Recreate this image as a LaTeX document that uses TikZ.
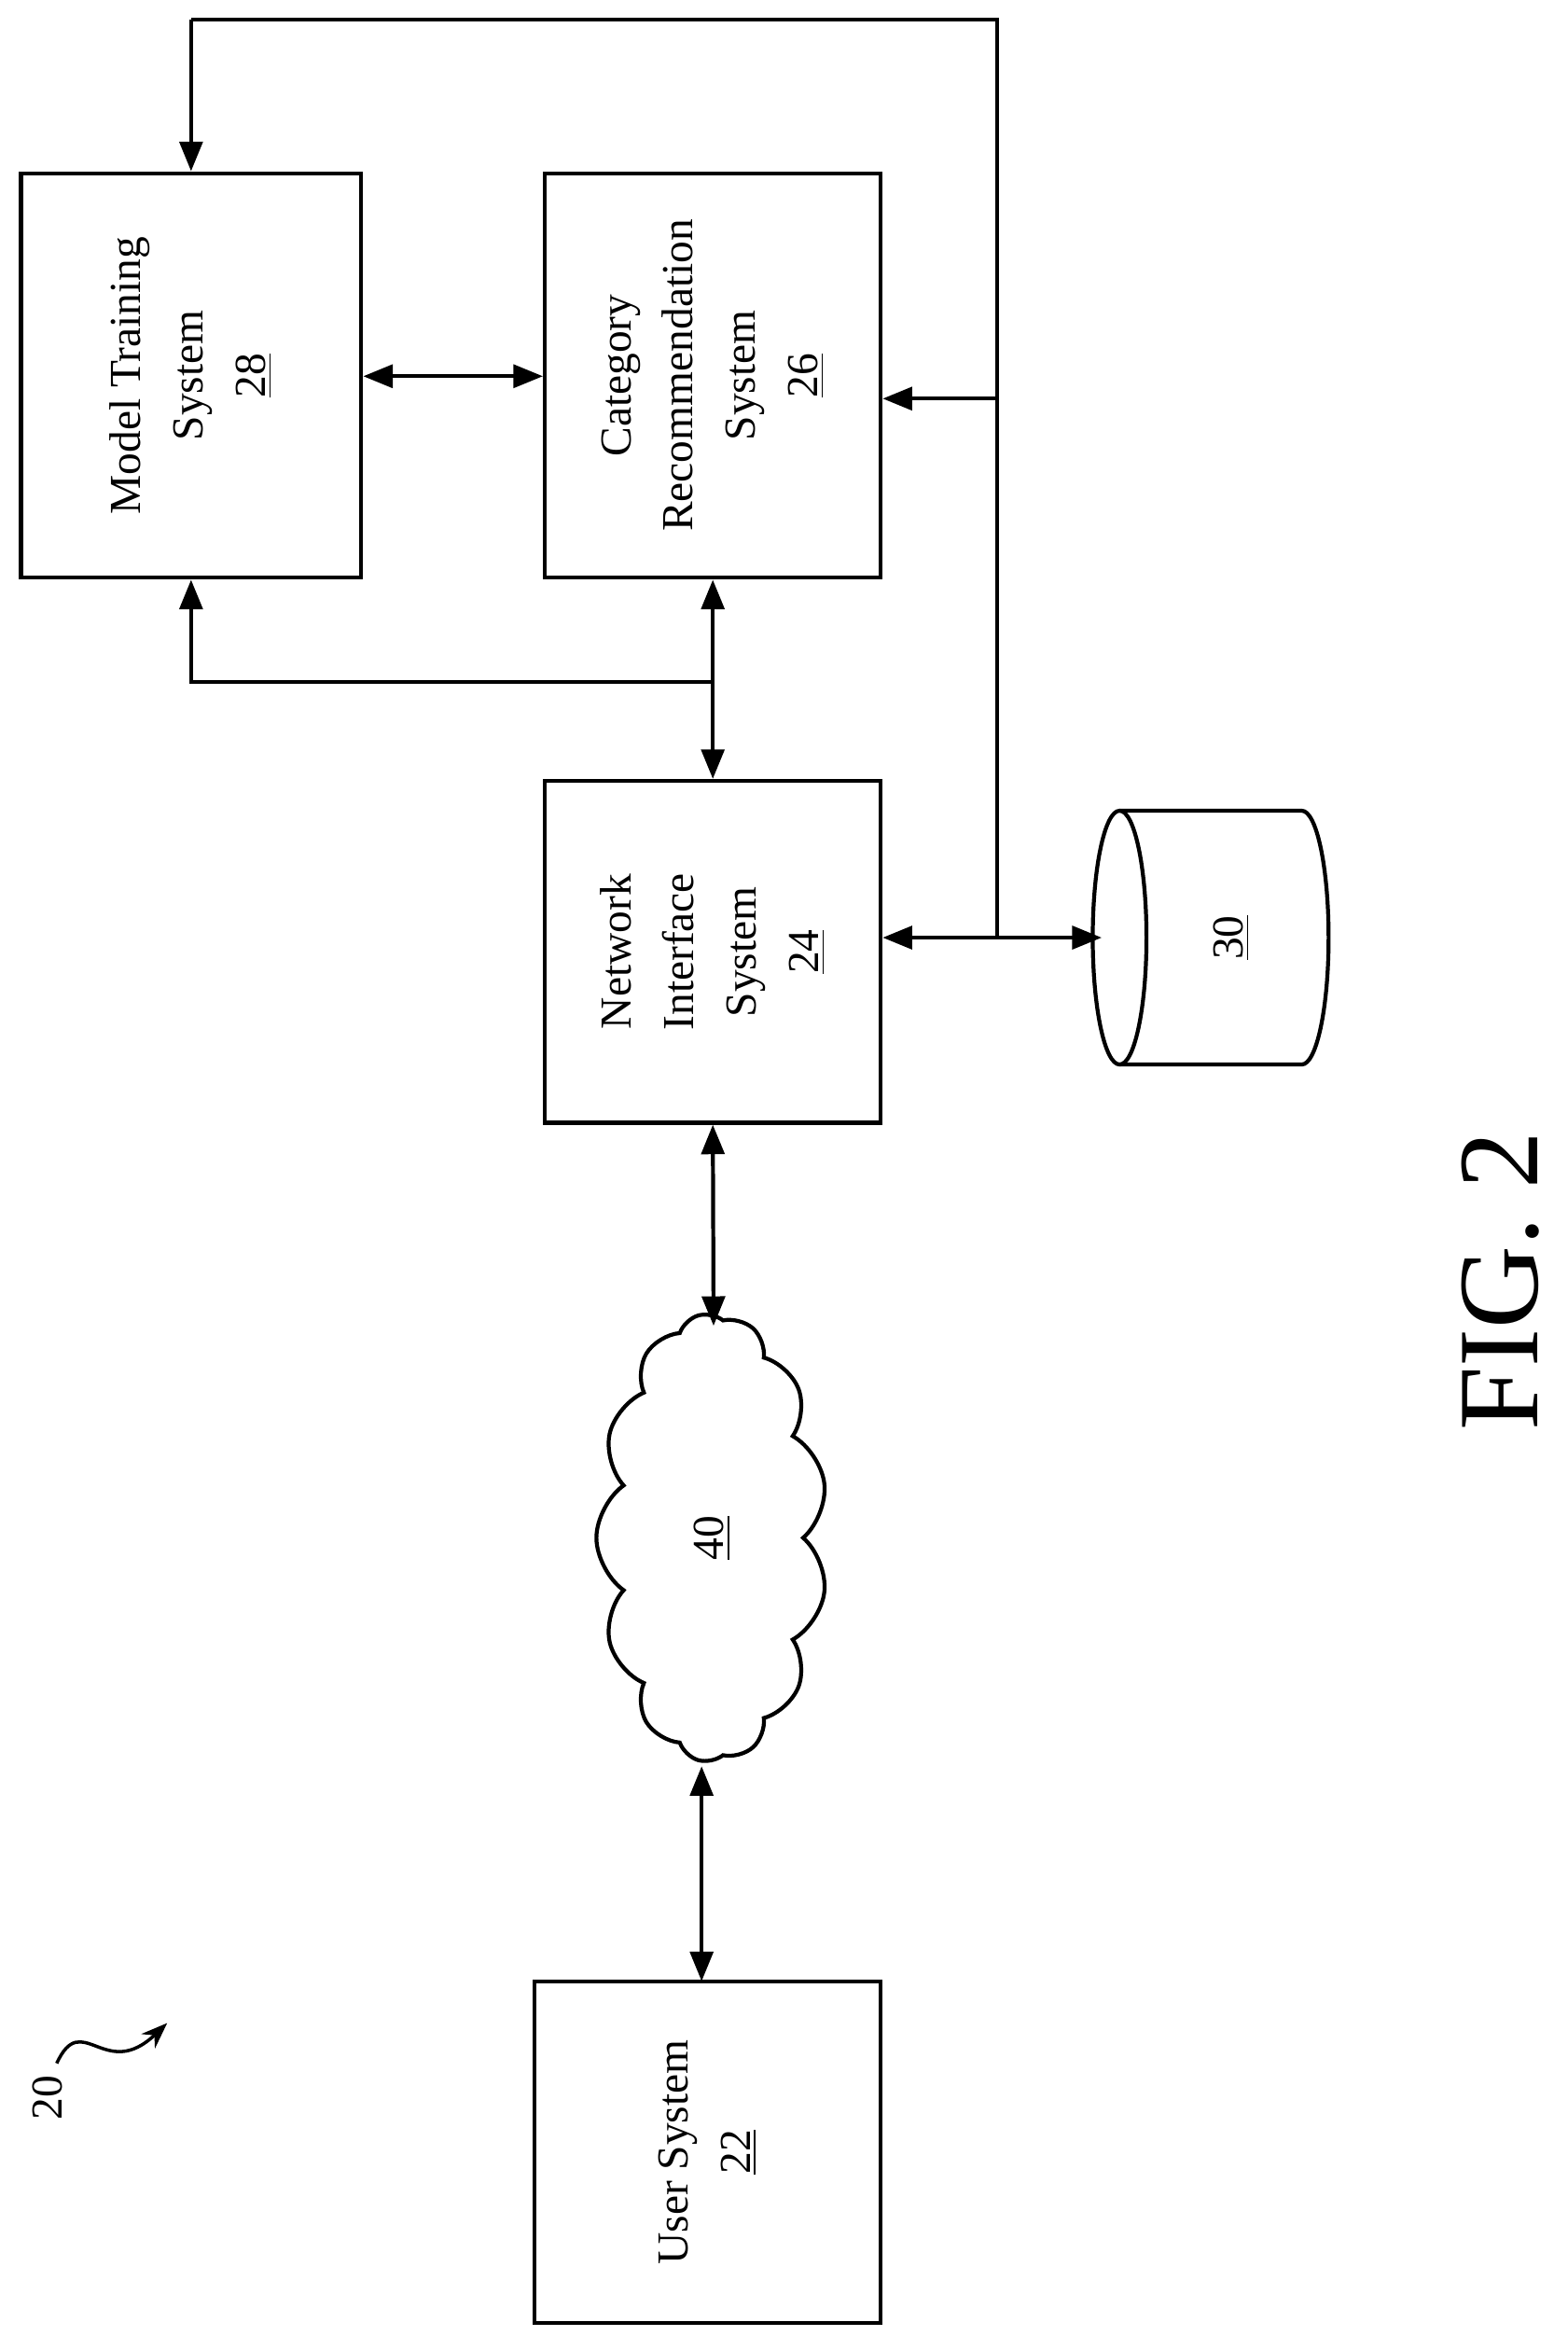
\documentclass[tikz,border=0pt]{standalone}
\usepackage{fontspec}
\setmainfont{Liberation Serif}
\usetikzlibrary{arrows.meta,shapes.symbols}
\begin{document}
\begin{tikzpicture}[x=0.016cm,y=-0.016cm,
  box/.style={draw,line width=1.2pt,inner sep=0pt},
  lbl/.style={rotate=90,align=center,font=\fontsize{13.5}{19}\selectfont},
  ln/.style={line width=1.2pt},
  ar/.style={ln,-{Triangle[length=9pt,width=7pt]}},
  dar/.style={ln,{Triangle[length=9pt,width=7pt]}-{Triangle[length=9pt,width=7pt]}}]
\useasboundingbox (0,0) rectangle (1050,1574);
\node[box,minimum width=228*0.016cm,minimum height=271*0.016cm] (mt) at (128,251.5) {};
\node[lbl] at (mt) {Model Training\\System\\\underline{28}};
\node[box,minimum width=225*0.016cm,minimum height=271*0.016cm] (cr) at (477.5,251.5) {};
\node[lbl] at (cr) {Category\\Recommendation\\System\\\underline{26}};
\node[box,minimum width=225*0.016cm,minimum height=229*0.016cm] (ni) at (477.5,637.5) {};
\node[lbl] at (ni) {Network\\Interface\\System\\\underline{24}};
\node[box,minimum width=232*0.016cm,minimum height=229*0.016cm] (us) at (474,1441.5) {};
\node[lbl] at (us) {User System\\\underline{22}};
% cylinder 30
\draw[ln] (750,628) ellipse [x radius=18,y radius=85];
\draw[ln] (750,543) -- (872,543) arc[start angle=-90,end angle=90,x radius=18,y radius=85] -- (750,713);
\coordinate (db) at (738,628);
\node[lbl] at (825,628) {\underline{30}};
% cloud 40
\node[cloud,draw,line width=1.2pt,cloud puffs=13,cloud puff arc=110,aspect=0.5,minimum width=300*0.016cm,minimum height=155*0.016cm,rotate=90] (cl) at (477,1030) {};
\node[lbl] at (cl) {\underline{40}};
% connectors
\coordinate (j1) at (668,628);
\coordinate (j2) at (668,267);
\coordinate (t1) at (668,13);
\coordinate (t2) at (128,13);
\draw[ln] (j1) -- (t1) -- (t2);
\draw[ar] (t2) -- (mt.north);
\draw[ar] (j2) -- (cr.east |- j2);
\draw[dar] (ni.east |- j1) -- (db);
\draw[dar] (mt.east |- 0,252) -- (cr.west |- 0,252);
\coordinate (b1) at (128,457);
\coordinate (b2) at (478,457);
\draw[ar] (b2) -- (b1) -- (mt.south);
\draw[dar] (cr.south) -- (ni.north);
\draw[dar] (ni.south) -- (478,888);
\draw[dar] (470,1183) -- (470,1327);
% label 20
\node[rotate=90,font=\fontsize{13.5}{15}\selectfont] (n20) at (32,1405) {20};
\coordinate (a20) at (112,1355);
\draw[line width=1pt,-{Stealth[length=8pt]}] (38,1382) .. controls (55,1345) and (70,1395) .. (a20);
\node[rotate=90,font=\fontsize{35}{38}\selectfont] (fig) at (1005,858) {FIG. 2};
\end{tikzpicture}
\end{document}
